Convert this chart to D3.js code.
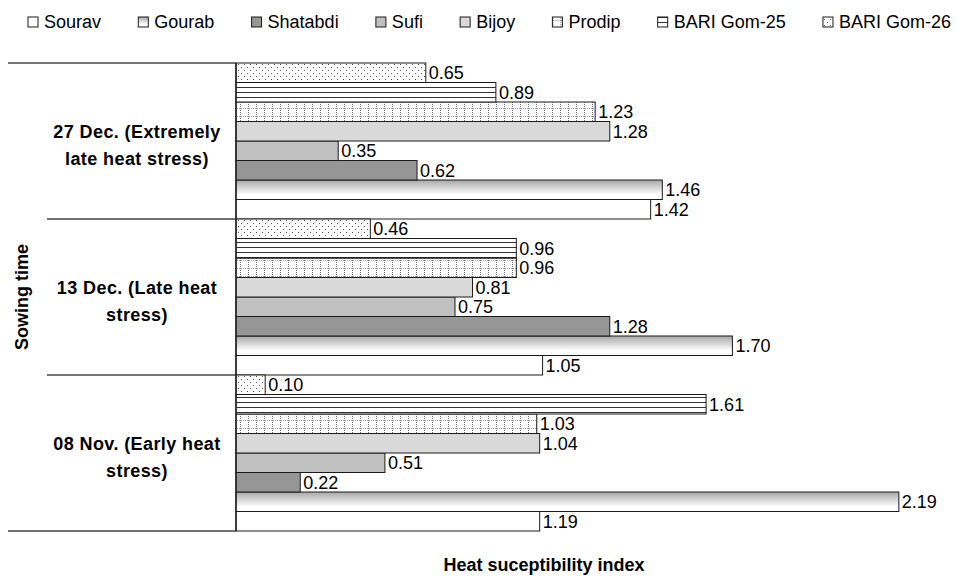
<!DOCTYPE html>
<html lang="en">
<head>
<meta charset="UTF-8">
<script src="https://d3js.org/d3.v7.min.js"></script>
<title>Heat suceptibility index</title>
<style>
body { margin: 0; background: #fff; }
text { font-family: Arial, "Liberation Sans", sans-serif; fill: #000; }
.lab { font-size: 18px; }
.cat { font-size: 18px; font-weight: bold; }
</style>
</head>
<body>
<script>

// sowing times, top to bottom
var sowing = ["27 Dec.", "13 Dec.", "08 Nov."];
var sowingLines = [
  ["27 Dec. (Extremely", "late heat stress)"],
  ["13 Dec. (Late heat", "stress)"],
  ["08 Nov. (Early heat", "stress)"]
];

var varieties = ["Sourav", "Gourab", "Shatabdi", "Sufi", "Bijoy", "Prodip", "BARI Gom-25", "BARI Gom-26"];

// heat susceptibility index (bar lengths), in the order of sowing[]
var sourav     = [1.42, 1.05, 1.04];
var gourab     = [1.46, 1.70, 2.27];
var shatabdi   = [0.62, 1.28, 0.22];
var sufi       = [0.35, 0.75, 0.51];
var bijoy      = [1.28, 0.81, 1.04];
var prodip     = [1.23, 0.96, 1.03];
var bariGom25  = [0.89, 0.96, 1.61];
var bariGom26  = [0.65, 0.46, 0.10];

// printed labels that differ from the drawn bar length
var labelOverride = { "Sourav|08 Nov.": "1.19", "Gourab|08 Nov.": "2.19" };

var seriesValues = [sourav, gourab, shatabdi, sufi, bijoy, prodip, bariGom25, bariGom26];

var width = 956,
    height = 581;

var svg = d3.select("body").append("svg")
    .attr("width", width)
    .attr("height", height);

// fills
var defs = svg.append("defs");

var grad = defs.append("linearGradient")
    .attr("id", "gourab")
    .attr("x1", 0).attr("y1", 0).attr("x2", 0).attr("y2", 1);
grad.append("stop").attr("offset", "0%").attr("stop-color", "#a8a8a8");
grad.append("stop").attr("offset", "75%").attr("stop-color", "#ffffff");
grad.append("stop").attr("offset", "100%").attr("stop-color", "#ffffff");

var pDots = defs.append("pattern")
    .attr("id", "dots")
    .attr("patternUnits", "userSpaceOnUse")
    .attr("width", 6).attr("height", 6);
pDots.append("rect").attr("width", 6).attr("height", 6).attr("fill", "#fff");
pDots.append("rect").attr("x", 1).attr("y", 1).attr("width", 1).attr("height", 1).attr("fill", "#555");
pDots.append("rect").attr("x", 4).attr("y", 4).attr("width", 1).attr("height", 1).attr("fill", "#555");

var pLines = defs.append("pattern")
    .attr("id", "hlines")
    .attr("patternUnits", "userSpaceOnUse")
    .attr("width", 6).attr("height", 5);
pLines.append("rect").attr("width", 6).attr("height", 5).attr("fill", "#fff");
pLines.append("rect").attr("y", 2).attr("width", 6).attr("height", 1).attr("fill", "#333");

var pGrid = defs.append("pattern")
    .attr("id", "grid")
    .attr("patternUnits", "userSpaceOnUse")
    .attr("width", 8).attr("height", 8);
pGrid.append("rect").attr("width", 8).attr("height", 8).attr("fill", "#fff");
[0, 2, 4, 6].forEach(function(k) {
  pGrid.append("rect").attr("x", 0).attr("y", k).attr("width", 1).attr("height", 1).attr("fill", "#777");
  pGrid.append("rect").attr("x", k + 1).attr("y", 4).attr("width", 1).attr("height", 1).attr("fill", "#999");
});

var fills = ["#ffffff", "url(#gourab)", "#969696", "#c0c0c0", "#d9d9d9", "url(#grid)", "url(#hlines)", "url(#dots)"];

// scales
var x = d3.scaleLinear()
    .domain([0, 2.4])
    .range([236, 236 + 2.4 * 292]);

var y0 = d3.scaleBand()
    .domain(sowing)
    .range([63, 531]);

var y1 = d3.scaleBand()
    .domain(varieties.slice().reverse())
    .range([0, y0.bandwidth()]);

// bars
var bars = [];
varieties.forEach(function(v, i) {
  sowing.forEach(function(s, j) {
    var key = v + "|" + s;
    bars.push({
      variety: v, sowing: s, value: seriesValues[i][j], fill: fills[i],
      label: labelOverride[key] || seriesValues[i][j].toFixed(2)
    });
  });
});

var g = svg.append("g");

g.selectAll("rect.bar")
    .data(bars)
  .enter().append("rect")
    .attr("class", "bar")
    .attr("x", x(0))
    .attr("y", function(d) { return y0(d.sowing) + y1(d.variety); })
    .attr("width", function(d) { return x(d.value) - x(0); })
    .attr("height", y1.bandwidth())
    .attr("fill", function(d) { return d.fill; })
    .attr("stroke", "#1a1a1a")
    .attr("stroke-width", 1);

g.selectAll("text.lab")
    .data(bars)
  .enter().append("text")
    .attr("class", "lab")
    .attr("x", function(d) { return x(d.value) + 3; })
    .attr("y", function(d) { return y0(d.sowing) + y1(d.variety) + y1.bandwidth() / 2; })
    .attr("dy", "0.36em")
    .text(function(d) { return d.label; });

// category axis with group separators
var bounds = sowing.map(function(s) { return y0(s); }).concat([y0.range()[1]]);
svg.selectAll("line.sep")
    .data(bounds)
  .enter().append("line")
    .attr("class", "sep")
    .attr("x1", function(d, i) { return (i === 0 || i === bounds.length - 1) ? 8 : 47; })
    .attr("x2", x(0))
    .attr("y1", function(d) { return d; })
    .attr("y2", function(d) { return d; })
    .attr("stroke", "#444")
    .attr("stroke-width", 1.5);

svg.append("line")
    .attr("x1", x(0)).attr("x2", x(0))
    .attr("y1", y0.range()[0]).attr("y2", y0.range()[1])
    .attr("stroke", "#222")
    .attr("stroke-width", 1.5);

var cats = svg.selectAll("text.cat")
    .data(sowing)
  .enter().append("text")
    .attr("class", "cat")
    .attr("text-anchor", "middle")
    .attr("x", 137)
    .attr("y", function(s) { return y0(s) + y0.bandwidth() / 2; });

cats.selectAll("tspan")
    .data(function(s, i) { return sowingLines[i]; })
  .enter().append("tspan")
    .attr("x", 137)
    .attr("dy", function(d, i) { return i === 0 ? "-0.15em" : "1.5em"; })
    .style("letter-spacing", "0.4px")
    .text(function(d) { return d; });

// axis titles
svg.append("text")
    .attr("class", "cat")
    .attr("text-anchor", "middle")
    .attr("transform", "translate(28," + ((y0.range()[0] + y0.range()[1]) / 2) + ") rotate(-90)")
    .text("Sowing time");

svg.append("text")
    .attr("class", "cat")
    .attr("text-anchor", "middle")
    .attr("x", 544)
    .attr("y", 571)
    .text("Heat suceptibility index");

// legend
var legend = svg.append("g").attr("class", "legend");
var items = legend.selectAll("g")
    .data(varieties)
  .enter().append("g");

items.append("rect")
    .attr("width", 10).attr("height", 10)
    .attr("y", 17)
    .attr("fill", function(d, i) { return fills[i]; })
    .attr("stroke", "#1a1a1a");

items.append("text")
    .attr("class", "lab")
    .attr("x", 16)
    .attr("y", 22)
    .attr("dy", "0.36em")
    .text(function(d) { return d; });

var widths = [];
items.each(function() { widths.push(16 + this.querySelector("text").getComputedTextLength()); });
var legendStart = 28, legendEnd = 951;
var gap = (legendEnd - legendStart - d3.sum(widths)) / (widths.length - 1);
var pos = legendStart;
items.attr("transform", function(d, i) {
  var t = "translate(" + pos + ",0)";
  pos += widths[i] + gap;
  return t;
});

</script>
</body>
</html>
